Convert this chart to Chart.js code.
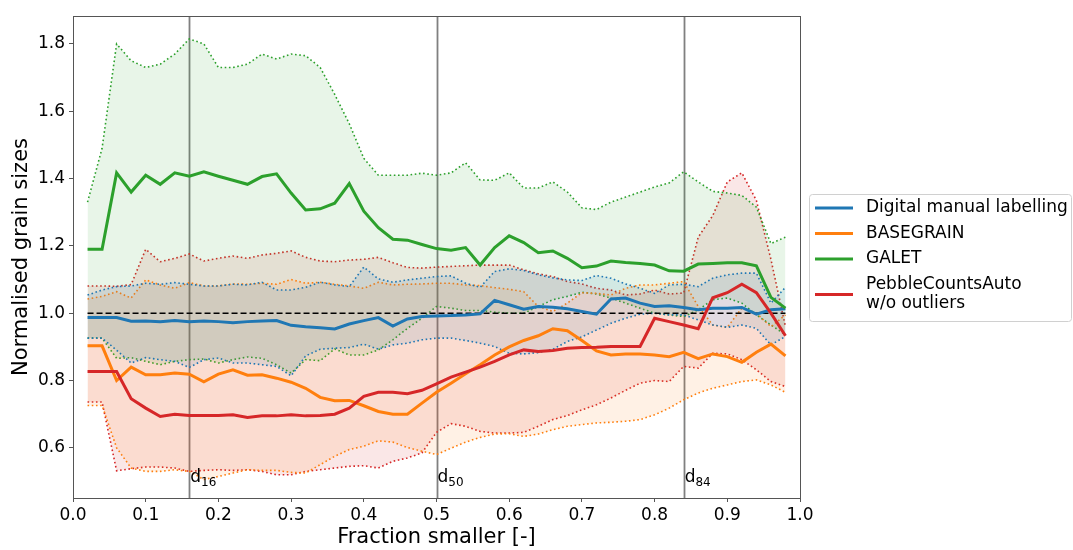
<!DOCTYPE html>
<html>
<head>
<meta charset="utf-8">
<script src="https://cdn.jsdelivr.net/npm/chart.js@4.4.1/dist/chart.umd.min.js"></script>
<style>
  html, body { margin: 0; padding: 0; background: #fff; }
  #wrap { width: 1073px; height: 550px; }
</style>
</head>
<body>
<div id="wrap"><canvas id="chart" width="1073" height="550"></canvas></div>
<script>
// Normalised grain sizes vs fraction smaller — mean line + dotted min/max band per method.

const FRACTIONS = [0.02, 0.04, 0.06, 0.08, 0.10, 0.12, 0.14, 0.16, 0.18, 0.20, 0.22, 0.24, 0.26, 0.28, 0.30, 0.32, 0.34,
  0.36, 0.38, 0.40, 0.42, 0.44, 0.46, 0.48, 0.50, 0.52, 0.54, 0.56, 0.58, 0.60, 0.62, 0.64, 0.66,
  0.68, 0.70, 0.72, 0.74, 0.76, 0.78, 0.80, 0.82, 0.84, 0.86, 0.88, 0.90, 0.92, 0.94, 0.96, 0.98];

const X_TICKS = [0, 0.1, 0.2, 0.3, 0.4, 0.5, 0.6, 0.7, 0.8, 0.9, 1.0];
const Y_TICKS = [0.6, 0.8, 1.0, 1.2, 1.4, 1.6, 1.8];
const Y_MIN = 0.451, Y_MAX = 1.883;
const REF_LEVEL = 1.0;
const D_MARKS = [{ x: 0.16, sub: '16' }, { x: 0.50, sub: '50' }, { x: 0.84, sub: '84' }];
const D_LABEL_Y = 0.50;

// Digital manual labelling
const DML_MEAN = [0.987, 0.987, 0.987, 0.976, 0.977, 0.975, 0.978, 0.975, 0.977, 0.975, 0.972, 0.975, 0.977, 0.978, 0.964, 0.960, 0.957,
  0.953, 0.968, 0.978, 0.987, 0.962, 0.983, 0.990, 0.992, 0.993, 0.995, 0.998, 1.038, 1.025, 1.012, 1.020, 1.018,
  1.013, 1.005, 0.997, 1.042, 1.045, 1.030, 1.020, 1.022, 1.017, 1.010, 1.015, 1.015, 1.017, 0.997, 1.010, 1.013];
const DML_HI = [1.054, 1.069, 1.079, 1.081, 1.089, 1.086, 1.091, 1.086, 1.081, 1.081, 1.086, 1.084, 1.092, 1.069, 1.069, 1.077, 1.092,
  1.084, 1.079, 1.137, 1.102, 1.092, 1.099, 1.104, 1.109, 1.111, 1.089, 1.077, 1.124, 1.132, 1.127, 1.114, 1.105,
  1.099, 1.097, 1.112, 1.104, 1.087, 1.074, 1.059, 1.084, 1.086, 1.079, 1.104, 1.114, 1.119, 1.119, 1.030, 1.077];
const DML_LO = [0.926, 0.926, 0.890, 0.852, 0.868, 0.862, 0.857, 0.839, 0.862, 0.867, 0.852, 0.852, 0.847, 0.842, 0.814, 0.873, 0.893,
  0.896, 0.898, 0.908, 0.893, 0.906, 0.911, 0.921, 0.926, 0.926, 0.919, 0.911, 0.901, 0.881, 0.879, 0.883, 0.893,
  0.916, 0.930, 0.950, 0.970, 0.985, 0.997, 1.000, 0.995, 0.995, 0.980, 0.965, 0.958, 0.965, 0.955, 0.906, 0.931];

// BASEGRAIN
const BG_MEAN = [0.903, 0.903, 0.800, 0.840, 0.817, 0.817, 0.822, 0.819, 0.796, 0.819, 0.832, 0.816, 0.817, 0.807, 0.795, 0.777, 0.750,
  0.740, 0.741, 0.725, 0.708, 0.700, 0.700, 0.733, 0.765, 0.792, 0.820, 0.847, 0.876, 0.900, 0.919, 0.933, 0.954,
  0.948, 0.919, 0.888, 0.876, 0.879, 0.879, 0.876, 0.871, 0.884, 0.865, 0.879, 0.871, 0.854, 0.884, 0.908, 0.873];
const BG_HI = [1.042, 1.050, 1.064, 1.045, 1.099, 1.084, 1.074, 1.091, 1.081, 1.081, 1.087, 1.086, 1.089, 1.086, 1.100, 1.089, 1.092,
  1.086, 1.081, 1.074, 1.092, 1.084, 1.086, 1.087, 1.089, 1.089, 1.084, 1.082, 1.076, 1.071, 1.064, 1.020, 1.005,
  1.030, 1.061, 1.059, 1.054, 1.074, 1.084, 1.084, 1.089, 1.094, 1.020, 0.965, 0.958, 1.015, 1.000, 0.960, 0.995];
const BG_LO = [0.726, 0.726, 0.600, 0.540, 0.530, 0.530, 0.535, 0.530, 0.506, 0.515, 0.525, 0.535, 0.533, 0.533, 0.527, 0.525, 0.550,
  0.575, 0.595, 0.605, 0.621, 0.617, 0.601, 0.590, 0.580, 0.599, 0.617, 0.631, 0.641, 0.642, 0.634, 0.641, 0.654,
  0.664, 0.669, 0.674, 0.676, 0.679, 0.684, 0.698, 0.718, 0.743, 0.763, 0.777, 0.787, 0.797, 0.802, 0.787, 0.765];

// GALET
const GA_MEAN = [1.190, 1.190, 1.417, 1.360, 1.410, 1.383, 1.417, 1.407, 1.420, 1.407, 1.395, 1.383, 1.406, 1.414, 1.357, 1.307, 1.310,
  1.327, 1.385, 1.303, 1.254, 1.220, 1.217, 1.204, 1.192, 1.187, 1.195, 1.143, 1.195, 1.230, 1.210, 1.180, 1.185,
  1.163, 1.135, 1.140, 1.155, 1.151, 1.148, 1.143, 1.126, 1.125, 1.146, 1.148, 1.150, 1.150, 1.141, 1.047, 1.015];
const GA_HI = [1.330, 1.490, 1.800, 1.750, 1.730, 1.740, 1.770, 1.815, 1.800, 1.730, 1.730, 1.740, 1.770, 1.755, 1.770, 1.765, 1.730,
  1.650, 1.563, 1.460, 1.410, 1.410, 1.410, 1.416, 1.410, 1.417, 1.447, 1.396, 1.395, 1.417, 1.372, 1.372, 1.390,
  1.360, 1.313, 1.308, 1.330, 1.345, 1.360, 1.375, 1.387, 1.420, 1.390, 1.362, 1.357, 1.350, 1.315, 1.207, 1.226];
const GA_LO = [0.926, 0.926, 0.866, 0.868, 0.857, 0.847, 0.857, 0.862, 0.864, 0.852, 0.862, 0.870, 0.866, 0.847, 0.822, 0.862, 0.859,
  0.894, 0.876, 0.876, 0.891, 0.921, 0.955, 0.985, 1.020, 1.015, 1.008, 1.008, 1.003, 1.000, 1.000, 1.020, 1.040,
  1.050, 1.062, 1.057, 1.045, 1.030, 1.015, 1.000, 0.995, 0.990, 1.010, 1.040, 1.045, 1.030, 0.995, 0.965, 0.936];

// PebbleCountsAuto w/o outliers
const PC_MEAN = [0.827, 0.827, 0.827, 0.746, 0.718, 0.693, 0.700, 0.696, 0.696, 0.696, 0.698, 0.690, 0.695, 0.695, 0.698, 0.695, 0.696,
  0.700, 0.718, 0.753, 0.765, 0.765, 0.761, 0.771, 0.790, 0.810, 0.825, 0.840, 0.857, 0.876, 0.891, 0.886, 0.889,
  0.896, 0.898, 0.899, 0.901, 0.901, 0.901, 0.985, 0.975, 0.965, 0.954, 1.046, 1.061, 1.086, 1.061, 1.000, 0.933];
const PC_HI = [1.081, 1.081, 1.080, 1.085, 1.190, 1.153, 1.163, 1.176, 1.155, 1.163, 1.170, 1.163, 1.173, 1.178, 1.185, 1.166, 1.155,
  1.153, 1.158, 1.160, 1.166, 1.150, 1.136, 1.134, 1.137, 1.139, 1.141, 1.143, 1.143, 1.143, 1.129, 1.117, 1.109,
  1.094, 1.087, 1.074, 1.069, 1.054, 1.057, 1.069, 1.057, 1.060, 1.226, 1.290, 1.390, 1.417, 1.335, 1.160, 0.960];
const PC_LO = [0.736, 0.736, 0.532, 0.538, 0.543, 0.543, 0.540, 0.530, 0.533, 0.535, 0.533, 0.535, 0.530, 0.520, 0.520, 0.530, 0.535,
  0.540, 0.545, 0.547, 0.540, 0.560, 0.570, 0.585, 0.646, 0.672, 0.664, 0.649, 0.644, 0.644, 0.646, 0.664, 0.684,
  0.696, 0.713, 0.728, 0.748, 0.771, 0.792, 0.800, 0.797, 0.842, 0.837, 0.881, 0.879, 0.862, 0.832, 0.797, 0.782];

const SERIES = [
  { label: ['Digital manual labelling'], rgb: [31, 119, 180], mean: DML_MEAN, hi: DML_HI, lo: DML_LO },
  { label: ['BASEGRAIN'], rgb: [255, 127, 14], mean: BG_MEAN, hi: BG_HI, lo: BG_LO },
  { label: ['GALET'], rgb: [44, 160, 44], mean: GA_MEAN, hi: GA_HI, lo: GA_LO },
  { label: ['PebbleCountsAuto', 'w/o outliers'], rgb: [214, 39, 40], mean: PC_MEAN, hi: PC_HI, lo: PC_LO },
];

const FONT = 'DejaVu Sans';
const rgba = (c, a) => `rgba(${c[0]},${c[1]},${c[2]},${a})`;
const pts = (ys) => FRACTIONS.map((x, i) => ({ x, y: ys[i] }));

// ── Datasets ──────────────────────────────────────────────────────────────────
const datasets = [];
SERIES.forEach((s, i) => {
  datasets.push({ data: pts(s.mean), borderColor: rgba(s.rgb, 1), borderWidth: 3, order: 3 - i, fill: false });
});
SERIES.forEach((s) => {
  const dotted = { borderColor: rgba(s.rgb, 1), borderWidth: 1.6, borderDash: [1.6, 2.6], order: 10 };
  datasets.push({ ...dotted, data: pts(s.hi), fill: '+1', backgroundColor: rgba(s.rgb, 0.11) });
  datasets.push({ ...dotted, data: pts(s.lo), fill: false });
});
datasets.push({
  data: [{ x: FRACTIONS[0], y: REF_LEVEL }, { x: FRACTIONS[FRACTIONS.length - 1], y: REF_LEVEL }],
  borderColor: '#000', borderWidth: 1.5, borderDash: [6, 3], order: 5, fill: false,
});

// ── Plugins ───────────────────────────────────────────────────────────────────
const percentileLines = {
  id: 'percentileLines',
  beforeDatasetsDraw(chart) {
    const { ctx, chartArea: a, scales: { x } } = chart;
    ctx.save();
    ctx.strokeStyle = '#808080';
    ctx.lineWidth = 1.8;
    D_MARKS.forEach((d) => {
      const px = Math.round(x.getPixelForValue(d.x)) + 0.5;
      ctx.beginPath(); ctx.moveTo(px, a.top); ctx.lineTo(px, a.bottom); ctx.stroke();
    });
    ctx.restore();
  },
  afterDatasetsDraw(chart) {
    const { ctx, chartArea: a, scales: { x, y } } = chart;
    ctx.save();
    ctx.fillStyle = '#000';
    ctx.textBaseline = 'alphabetic';
    D_MARKS.forEach((d) => {
      const px = x.getPixelForValue(d.x) + 1;
      const py = y.getPixelForValue(D_LABEL_Y);
      ctx.font = `17px "${FONT}"`;
      ctx.fillText('d', px, py);
      const w = ctx.measureText('d').width;
      ctx.font = `12px "${FONT}"`;
      ctx.fillText(d.sub, px + w, py + 4);
    });
    // spines on all four sides
    ctx.strokeStyle = '#555';
    ctx.lineWidth = 1;
    ctx.strokeRect(Math.round(a.left) + 0.5, Math.round(a.top) + 0.5, Math.round(a.right - a.left), Math.round(a.bottom - a.top));
    ctx.restore();
  },
};

const sideLegend = {
  id: 'sideLegend',
  afterDraw(chart) {
    const { ctx, chartArea: a } = chart;
    const left = a.right + 9, top = 194, w = 262, h = 127;
    ctx.save();
    ctx.fillStyle = 'rgba(255,255,255,0.85)';
    ctx.strokeStyle = '#d0d0d0';
    ctx.lineWidth = 1;
    ctx.beginPath();
    ctx.roundRect(left + 0.5, top + 0.5, w, h, 3);
    ctx.fill(); ctx.stroke();
    ctx.font = `17px "${FONT}"`;
    ctx.textBaseline = 'middle';
    let cy = top + 14;
    SERIES.forEach((s) => {
      const lines = s.label;
      const mid = cy + (lines.length - 1) * 10;
      ctx.strokeStyle = rgba(s.rgb, 1);
      ctx.lineWidth = 3;
      ctx.beginPath(); ctx.moveTo(left + 6, mid); ctx.lineTo(left + 44, mid); ctx.stroke();
      ctx.fillStyle = '#000';
      lines.forEach((t, j) => ctx.fillText(t, left + 57, cy + j * 19));
      cy += 19 * (lines.length - 1) + 25.5;
    });
    ctx.restore();
  },
};

// ── Chart ─────────────────────────────────────────────────────────────────────
Chart.defaults.font.family = FONT;
Chart.defaults.color = '#000';

new Chart(document.getElementById('chart'), {
  type: 'line',
  data: { datasets },
  options: {
    responsive: false,
    animation: false,
    devicePixelRatio: 1,
    layout: { padding: { top: 16, right: 273, left: 0, bottom: 0 } },
    elements: { point: { radius: 0 }, line: { tension: 0, borderCapStyle: 'butt' } },
    plugins: { legend: { display: false }, tooltip: { enabled: false } },
    scales: {
      x: {
        type: 'linear', min: 0, max: 1,
        afterBuildTicks: (s) => { s.ticks = X_TICKS.map((v) => ({ value: v })); },
        afterFit: (s) => { s.height = 52; },
        ticks: { callback: (v) => v.toFixed(1), font: { size: 17 }, padding: 3, maxRotation: 0, color: '#000' },
        grid: { drawOnChartArea: false, tickLength: 4, color: '#555' },
        border: { display: true, color: '#555' },
        title: { display: true, text: 'Fraction smaller [-]', font: { size: 21, lineHeight: 1.2 }, padding: { top: 0, bottom: 0 }, color: '#000' },
      },
      y: {
        type: 'linear', min: Y_MIN, max: Y_MAX,
        afterBuildTicks: (s) => { s.ticks = Y_TICKS.map((v) => ({ value: v })); },
        afterFit: (s) => { s.width = 73; },
        ticks: { callback: (v) => v.toFixed(1), font: { size: 17 }, padding: 4, color: '#000' },
        grid: { drawOnChartArea: false, tickLength: 4, color: '#555' },
        border: { display: true, color: '#555' },
        title: { display: true, text: 'Normalised grain sizes', font: { size: 21, lineHeight: 1.2 }, padding: { top: 9, bottom: 0 }, color: '#000' },
      },
    },
  },
  plugins: [percentileLines, sideLegend],
});
</script>
</body>
</html>
